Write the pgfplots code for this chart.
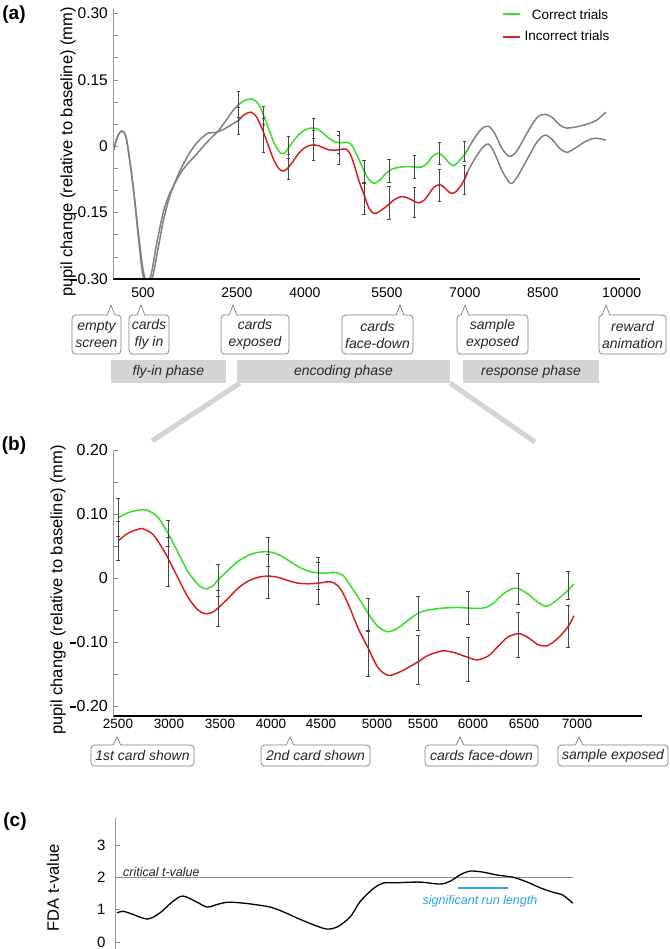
\documentclass[border=0pt]{standalone}
\usepackage{pgfplots}
\pgfplotsset{compat=1.18}
\usepackage{fontspec}
\setmainfont{Liberation Sans}
\definecolor{cgreen}{RGB}{55,222,40}
\definecolor{cred}{RGB}{212,34,30}
\definecolor{cgray}{RGB}{128,128,128}
\definecolor{phase}{RGB}{212,212,212}
\definecolor{boxc}{RGB}{125,125,125}
\definecolor{ebar}{RGB}{70,70,70}
\definecolor{sigblue}{RGB}{40,162,226}
\newcommand{\fs}[1]{\fontsize{#1}{#1}\selectfont}
\newcommand{\negsign}{\rule[0.23em]{0.34em}{0.12em}\kern0.06em}
% xl xr ytop ybot pointerx tipy text
\newcommand{\callout}[7]{%
  \draw[boxc, line width=0.7pt, rounded corners=3.5pt, fill=white] (#1,#3) rectangle (#2,#4);
  \fill[white] (#5-3.8,#3+0.8) -- (#5,#6) -- (#5+3.8,#3+0.8) -- cycle;
  \draw[boxc, line width=0.7pt] (#5-3.8,#3) -- (#5,#6) -- (#5+3.8,#3);
  \node[align=center, font=\fontsize{14}{17}\selectfont\itshape, text=black!85, inner sep=0pt] at ({(#1+#2)/2},{(#3+#4)/2}) {#7};
}
\pgfplotsset{
  myaxis/.style={
    scale only axis, anchor=south west,
    axis x line=bottom, axis y line=left,
    x axis line style={-, black, line width=1.2pt},
    y axis line style={-, black!40, line width=0.7pt},
    xtick style={draw=none},
    ytick style={black!45, line width=0.6pt},
    minor tick style={black!45, line width=0.6pt},
    major tick length=5pt, minor tick length=5pt,
    tick align=inside,
    scaled x ticks=false, scaled y ticks=false,
    unbounded coords=jump,
    axis on top,
  },
  ebars/.style={ebar, line width=0.6pt, forget plot, mark=-, mark size=#1,
    mark options={ebar, solid, line width=0.6pt}},
}
\begin{document}
\begin{tikzpicture}
\path[use as bounding box] (0,0) rectangle (669pt,-949pt);

% ---------------- panel (a)
\begin{axis}[myaxis, at={(113pt,-279pt)}, width=527pt, height=270pt,
  xmin=0, xmax=10500, ymin=-0.30, ymax=0.31,
  xtick={597,2469,3823,5456,7009,8562,10135},
  xticklabels={500,2500,4000,5500,7000,8500,10000},
  ytick={-0.30,-0.15,0,0.15,0.30},
  yticklabels={},
  minor ytick={-0.25,-0.20,-0.10,-0.05,0.05,0.10,0.20,0.25},
  xticklabel style={font=\fs{14}, yshift=-5pt},
]
\addplot[cgray, line width=1.5pt, smooth] coordinates {
(0,-0.013) (90,0.022) (180,0.034) (270,0.015) (400,-0.09) (500,-0.19) (600,-0.28) (700,-0.315) (800,-0.29) (900,-0.23) (1000,-0.17) (1100,-0.125) (1200,-0.092) (1350,-0.06) (1500,-0.038) (1650,-0.02) (1800,0.000) (1950,0.018) (2100,0.035) (2250,0.058) (2400,0.082) (2500,0.094)};
\addplot[cgray, line width=1.5pt, smooth] coordinates {
(0,-0.013) (90,0.022) (180,0.034) (270,0.015) (400,-0.09) (500,-0.20) (580,-0.28) (660,-0.315) (760,-0.29) (870,-0.22) (1000,-0.15) (1100,-0.115) (1200,-0.09) (1350,-0.052) (1500,-0.02) (1650,0.005) (1800,0.022) (1900,0.030) (2050,0.031) (2200,0.038) (2350,0.048) (2500,0.058)};
\addplot[cgray, line width=1.5pt, smooth] coordinates {
(7000,-0.019) (7060,-0.009) (7200,0.018) (7350,0.040) (7480,0.045) (7600,0.030) (7750,-0.005) (7900,-0.023) (8050,-0.010) (8250,0.030) (8450,0.065) (8610,0.072) (8750,0.065) (8900,0.048) (9040,0.041) (9200,0.043) (9360,0.047) (9500,0.052) (9640,0.059) (9820,0.077)};
\addplot[cgray, line width=1.5pt, smooth] coordinates {
(7000,-0.076) (7060,-0.059) (7200,-0.030) (7350,-0.005) (7480,0.005) (7600,-0.015) (7750,-0.055) (7920,-0.084) (8050,-0.070) (8250,-0.030) (8450,0.010) (8610,0.025) (8750,0.015) (8900,-0.005) (9040,-0.014) (9200,-0.005) (9400,0.010) (9550,0.017) (9640,0.018) (9820,0.014)};
\addplot[cgreen, line width=1.5pt, smooth] coordinates {
(2500,0.094) (2600,0.102) (2700,0.106) (2790,0.106) (2900,0.095) (3000,0.070) (3100,0.040) (3200,0.010) (3300,-0.010) (3370,-0.017) (3450,-0.012) (3500,-0.003) (3600,0.012) (3700,0.026) (3800,0.035) (3900,0.040) (4000,0.041) (4100,0.037) (4200,0.028) (4300,0.018) (4400,0.011) (4500,0.008) (4600,0.008) (4650,0.009) (4750,0.004) (4850,-0.018) (4950,-0.042) (5000,-0.055) (5100,-0.076) (5200,-0.084) (5300,-0.078) (5400,-0.066) (5500,-0.055) (5600,-0.050) (5750,-0.047) (5900,-0.046) (6000,-0.047) (6150,-0.047) (6250,-0.040) (6350,-0.025) (6450,-0.016) (6500,-0.016) (6600,-0.025) (6700,-0.038) (6790,-0.044) (6900,-0.033) (7000,-0.019) (7060,-0.009)};
\addplot[cred, line width=1.5pt, smooth] coordinates {
(2500,0.058) (2600,0.070) (2700,0.076) (2750,0.077) (2850,0.068) (2950,0.045) (3000,0.031) (3100,0.000) (3200,-0.030) (3300,-0.050) (3380,-0.056) (3450,-0.053) (3500,-0.047) (3600,-0.032) (3700,-0.016) (3800,-0.005) (3900,0.001) (4000,0.003) (4100,0.001) (4200,-0.004) (4300,-0.008) (4400,-0.009) (4500,-0.008) (4600,-0.006) (4650,-0.007) (4720,-0.016) (4800,-0.040) (4900,-0.078) (5000,-0.109) (5100,-0.140) (5200,-0.152) (5300,-0.148) (5400,-0.140) (5500,-0.131) (5600,-0.121) (5740,-0.114) (5850,-0.116) (6000,-0.124) (6090,-0.128) (6200,-0.122) (6300,-0.107) (6400,-0.092) (6510,-0.087) (6600,-0.093) (6700,-0.104) (6790,-0.106) (6900,-0.094) (7000,-0.076) (7060,-0.059)};
% error bars: correct trials
\addplot[ebars=1.6pt] coordinates {
(2500,0.065) (2500,0.125) (2500,nan) (3000,0.050) (3000,0.090) (3000,nan) (3500,-0.028) (3500,0.022) (3500,nan) (4000,0.019) (4000,0.063) (4000,nan) (4500,-0.017) (4500,0.033) (4500,nan) (5000,-0.082) (5000,-0.031) (5000,nan) (5500,-0.081) (5500,-0.029) (5500,nan) (6000,-0.072) (6000,-0.021) (6000,nan) (6500,-0.041) (6500,0.008) (6500,nan) (7000,-0.034) (7000,0.010)};
% error bars: incorrect trials
\addplot[ebars=1.6pt] coordinates {
(2500,0.028) (2500,0.088) (2500,nan) (3000,-0.013) (3000,0.063) (3000,nan) (3500,-0.075) (3500,-0.019) (3500,nan) (4000,-0.031) (4000,0.037) (4000,nan) (4500,-0.041) (4500,0.025) (4500,nan) (5000,-0.154) (5000,-0.084) (5000,nan) (5500,-0.166) (5500,-0.090) (5500,nan) (6000,-0.161) (6000,-0.092) (6000,nan) (6500,-0.124) (6500,-0.053) (6500,nan) (7000,-0.108) (7000,-0.042)};
\end{axis}

% ---------------- panel (b)
\begin{axis}[myaxis, at={(113pt,-716pt)}, width=529pt, height=266pt,
  xmin=2450, xmax=7740, ymin=-0.2156, ymax=0.20,
  xtick={2500,3010,3520,4030,4530,5090,5550,6050,6560,7090},
  xticklabels={2500,3000,3500,4000,4500,5000,5500,6000,6500,7000},
  ytick={-0.2,-0.1,0,0.1,0.2},
  yticklabels={},
  minor ytick={-0.15,-0.05,0.05,0.15},
  xticklabel style={font=\fs{13.5}},
]
\addplot[cgreen, line width=1.5pt, smooth] coordinates {
(2500,0.094) (2600,0.102) (2700,0.106) (2790,0.106) (2900,0.095) (3000,0.070) (3100,0.040) (3200,0.010) (3300,-0.010) (3370,-0.017) (3450,-0.012) (3500,-0.003) (3600,0.012) (3700,0.026) (3800,0.035) (3900,0.040) (4000,0.041) (4100,0.037) (4200,0.028) (4300,0.018) (4400,0.011) (4500,0.008) (4600,0.008) (4650,0.009) (4750,0.004) (4850,-0.018) (4950,-0.042) (5000,-0.055) (5100,-0.076) (5200,-0.084) (5300,-0.078) (5400,-0.066) (5500,-0.055) (5600,-0.050) (5750,-0.047) (5900,-0.046) (6000,-0.047) (6150,-0.047) (6250,-0.040) (6350,-0.025) (6450,-0.016) (6500,-0.016) (6600,-0.025) (6700,-0.038) (6790,-0.044) (6900,-0.033) (7000,-0.019) (7060,-0.009)};
\addplot[cred, line width=1.5pt, smooth] coordinates {
(2500,0.058) (2600,0.070) (2700,0.076) (2750,0.077) (2850,0.068) (2950,0.045) (3000,0.031) (3100,0.000) (3200,-0.030) (3300,-0.050) (3380,-0.056) (3450,-0.053) (3500,-0.047) (3600,-0.032) (3700,-0.016) (3800,-0.005) (3900,0.001) (4000,0.003) (4100,0.001) (4200,-0.004) (4300,-0.008) (4400,-0.009) (4500,-0.008) (4600,-0.006) (4650,-0.007) (4720,-0.016) (4800,-0.040) (4900,-0.078) (5000,-0.109) (5100,-0.140) (5200,-0.152) (5300,-0.148) (5400,-0.140) (5500,-0.131) (5600,-0.121) (5740,-0.114) (5850,-0.116) (6000,-0.124) (6090,-0.128) (6200,-0.122) (6300,-0.107) (6400,-0.092) (6510,-0.087) (6600,-0.093) (6700,-0.104) (6790,-0.106) (6900,-0.094) (7000,-0.076) (7060,-0.059)};
\addplot[ebars=2.2pt] coordinates {
(2500,0.065) (2500,0.125) (2500,nan) (3000,0.050) (3000,0.090) (3000,nan) (3500,-0.028) (3500,0.022) (3500,nan) (4000,0.019) (4000,0.063) (4000,nan) (4500,-0.017) (4500,0.033) (4500,nan) (5000,-0.082) (5000,-0.031) (5000,nan) (5500,-0.081) (5500,-0.029) (5500,nan) (6000,-0.072) (6000,-0.021) (6000,nan) (6500,-0.041) (6500,0.008) (6500,nan) (7000,-0.034) (7000,0.010)};
\addplot[ebars=2.2pt] coordinates {
(2500,0.028) (2500,0.088) (2500,nan) (3000,-0.013) (3000,0.063) (3000,nan) (3500,-0.075) (3500,-0.019) (3500,nan) (4000,-0.031) (4000,0.037) (4000,nan) (4500,-0.041) (4500,0.025) (4500,nan) (5000,-0.154) (5000,-0.084) (5000,nan) (5500,-0.166) (5500,-0.090) (5500,nan) (6000,-0.161) (6000,-0.092) (6000,nan) (6500,-0.124) (6500,-0.053) (6500,nan) (7000,-0.108) (7000,-0.042)};
\end{axis}

% ---------------- panel (c)
\begin{axis}[myaxis, at={(115pt,-949pt)}, width=458pt, height=131pt,
  xmin=2480, xmax=7001, ymin=-0.216, ymax=3.83,
  axis x line=none,
  ytick={0,1,2,3}, yticklabels={0,1,2,3},
  yticklabel style={font=\fs{15}, xshift=-6pt},
]
\addplot[black!45, line width=0.7pt] coordinates {(2480,2) (7001,2)};
\addplot[sigblue, line width=2.6pt] coordinates {(5866,1.67) (6360,1.67)};
\addplot[black, line width=1.3pt, smooth] coordinates {
(2500,0.90) (2560,0.95) (2650,0.86) (2800,0.71) (2920,0.89) (3050,1.25) (3150,1.42) (3290,1.23) (3390,1.08) (3500,1.17) (3600,1.23) (3780,1.19) (4010,1.08) (4150,0.92) (4300,0.71) (4450,0.52) (4570,0.40) (4670,0.46) (4800,0.77) (4900,1.25) (5030,1.65) (5130,1.82) (5250,1.83) (5490,1.85) (5690,1.79) (5790,1.88) (5890,2.08) (5985,2.19) (6110,2.16) (6250,2.07) (6410,2.00) (6550,1.85) (6680,1.67) (6800,1.54) (6900,1.45) (7000,1.20)};
\end{axis}

% ---------------- annotations
\begin{scope}[x=1pt,y=-1pt]
\node[font=\bfseries\fs{19}] at (14,15) {(a)};
\node[font=\bfseries\fs{19}] at (14,446) {(b)};
\node[font=\bfseries\fs{19}] at (15,822) {(c)};
\node[rotate=90, font=\fs{16.5}] at (68,152) {pupil change (relative to baseline) (mm)};
\node[rotate=90, font=\fs{16.5}] at (58,590) {pupil change (relative to baseline) (mm)};
\node[rotate=90, font=\fs{16.5}] at (53,888) {FDA t-value};
% y tick labels (a)
\node[anchor=east, inner sep=0pt, font=\fs{15.5}] at (108,13.4) {0.30};
\node[anchor=east, inner sep=0pt, font=\fs{15.5}] at (108,79.8) {0.15};
\node[anchor=east, inner sep=0pt, font=\fs{15.5}] at (108,146.2) {0};
\node[anchor=east, inner sep=0pt, font=\fs{15.5}] at (108,212.6) {\negsign 0.15};
\node[anchor=east, inner sep=0pt, font=\fs{15.5}] at (108,279) {\negsign 0.30};
% y tick labels (b)
\node[anchor=east, inner sep=0pt, font=\fs{16}] at (108,450) {0.20};
\node[anchor=east, inner sep=0pt, font=\fs{16}] at (108,514) {0.10};
\node[anchor=east, inner sep=0pt, font=\fs{16}] at (108,578) {0};
\node[anchor=east, inner sep=0pt, font=\fs{16}] at (108,642) {\negsign 0.10};
\node[anchor=east, inner sep=0pt, font=\fs{16}] at (108,706) {\negsign 0.20};
% legend
\draw[cgreen, line width=1.6pt] (503,14) -- (520,14);
\draw[cred, line width=1.6pt] (503,37) -- (520,37);
\node[font=\fs{13.5}] at (570,15) {Correct trials};
\node[font=\fs{13.5}] at (567,36) {Incorrect trials};
% callouts (a)
\callout{72}{121}{315}{354}{111}{305}{empty\\screen}
\callout{129}{169}{315}{354}{141}{305}{cards\\fly in}
\callout{221}{289}{315}{354}{233}{305}{cards\\exposed}
\callout{342}{413}{315}{354}{400}{305}{cards\\face-down}
\callout{457}{528}{315}{354}{465}{305}{sample\\exposed}
\callout{599}{666}{315}{354}{606}{305}{reward\\animation}
% phase bars
\draw[phase, line width=5pt] (240,383) -- (152,441);
\draw[phase, line width=5pt] (450,383) -- (535,442);
\fill[phase] (111,360) rectangle (226,383);
\fill[phase] (237,360) rectangle (450,383);
\fill[phase] (463,360) rectangle (599,383);
\node[font=\fs{14}\itshape, text=black!85] at (168.5,371.5) {fly-in phase};
\node[font=\fs{14}\itshape, text=black!85] at (343.5,371.5) {encoding phase};
\node[font=\fs{14}\itshape, text=black!85] at (531,371.5) {response phase};
% callouts (b)
\callout{91}{194}{745}{766}{117}{737}{1st card shown}
\callout{261}{370}{745}{766}{290}{737}{2nd card shown}
\callout{425}{538}{745}{766}{460}{737}{cards face-down}
\callout{558}{668}{745}{766}{579}{737}{sample exposed}
% panel (c) texts
\node[anchor=base west, font=\fs{12.5}\itshape, text=black!85, inner sep=0pt] at (123,876) {critical t-value};
\node[font=\fs{12.5}\itshape, text=sigblue] at (480,901) {significant run length};
\end{scope}
\end{tikzpicture}
\end{document}
